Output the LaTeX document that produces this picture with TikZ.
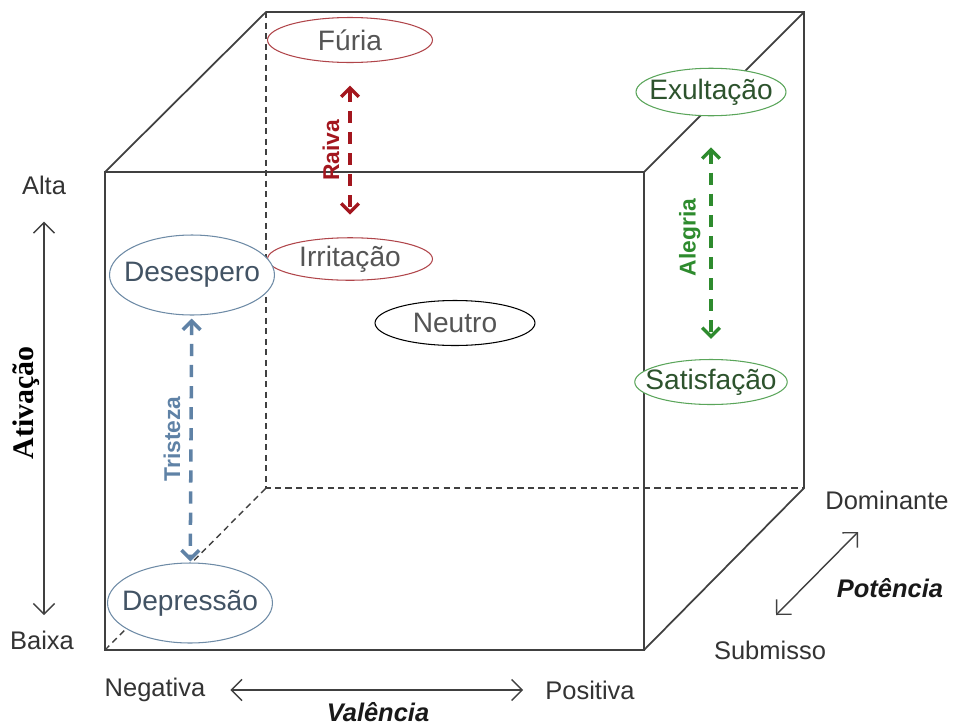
\documentclass[tikz,border=0pt]{standalone}
\usepackage{fontspec}
\setmainfont{Liberation Sans}
\newfontfamily\timesfont{Liberation Serif}
\usepackage{tikz}
\usetikzlibrary{arrows.meta, positioning, shapes.geometric, calc}
\definecolor{edge}{HTML}{404040}
\definecolor{raivared}{HTML}{A3161E}
\definecolor{furiared}{HTML}{B0454A}
\definecolor{alegriagreen}{HTML}{2E8B2E}
\definecolor{exultgreen}{HTML}{5AA55A}
\definecolor{tristblue}{HTML}{5F82A6}
\definecolor{despblue}{HTML}{6E8BA6}
\definecolor{label}{HTML}{555555}

\begin{document}
\begin{tikzpicture}[x=0.02cm, y=-0.02cm,
  emo/.style={ellipse, draw, fill=white, line width=0.6pt, inner xsep=-0.35cm, inner ysep=-0.1cm, font=\fontsize{16}{18}\selectfont, text=label},
  cube/.style={edge, line width=1pt},
  hidden/.style={edge, line width=0.8pt, dash pattern=on 3.5pt off 2.5pt},
  family/.style={{Straight Barb[length=5pt,width=10pt]}-{Straight Barb[length=5pt,width=10pt]}, line width=2pt, dash pattern=on 7pt off 5pt},
  famname/.style={rotate=90, anchor=south, inner sep=5pt, font=\fontsize{13}{15}\selectfont\bfseries},
  axis/.style={{Straight Barb[length=6pt,width=12pt]}-{Straight Barb[length=6pt,width=12pt]}, line width=0.8pt, edge},
  pole/.style={font=\fontsize{14.5}{17}\selectfont, text=black!80},
  axisname/.style={font=\fontsize{14.5}{17}\selectfont\bfseries\itshape, text=black!90}
]
  \useasboundingbox (0,0) rectangle (953,727);

  % cube corners (front face, then back face)
  \coordinate (ftl) at (105,172);
  \coordinate (ftr) at (644,172);
  \coordinate (fbr) at (644,650);
  \coordinate (fbl) at (105,650);
  \coordinate (btl) at (266,12);
  \coordinate (btr) at (804,12);
  \coordinate (bbr) at (804,488);
  \coordinate (bbl) at (266,488);

  % hidden edges
  \draw[hidden] (btl) -- (bbl) -- (bbr);
  \draw[hidden] (fbl) -- (bbl);

  % visible edges
  \draw[cube] (ftl) -- (ftr) -- (fbr) -- (fbl) -- cycle;
  \draw[cube] (ftl) -- (btl) -- (btr) -- (bbr) -- (fbr);
  \draw[cube] (ftr) -- (btr);

  % emotions
  \node[emo, draw=furiared, minimum width=3.3cm, minimum height=0.9cm] (furia) at (350,40) {Fúria};
  \node[emo, draw=furiared, minimum width=3.3cm, minimum height=0.85cm] (irrit) at (350,259) {Irritação};
  \node[emo, draw=despblue, minimum width=3.3cm, minimum height=1.6cm, text=despblue!60!black] (desesp) at (192,275) {Desespero};
  \node[emo, draw=black, minimum width=3.2cm, minimum height=0.9cm] (neutro) at (455,323) {Neutro};
  \node[emo, draw=exultgreen, minimum width=3.0cm, minimum height=0.95cm, text=exultgreen!50!black] (exult) at (711,92) {Exultação};
  \node[emo, draw=exultgreen, minimum width=3.05cm, minimum height=0.9cm, text=exultgreen!50!black] (satisf) at (711,382) {Satisfação};
  \node[emo, draw=despblue, minimum width=3.3cm, minimum height=1.6cm, text=despblue!60!black] (depress) at (190,603) {Depressão};

  % emotion families
  \draw[family, raivared, shorten <=0.45cm, shorten >=0.45cm] (furia) -- (irrit)
    node[midway, famname, text=raivared] {Raiva};
  \draw[family, alegriagreen, shorten <=0.62cm, shorten >=0.4cm] (exult) -- (satisf)
    node[midway, famname, text=alegriagreen] {Alegria};
  \draw[family, tristblue, shorten <=0.06cm, shorten >=0.02cm] (desesp) -- (depress)
    node[midway, famname, text=tristblue] {Tristeza};

  % Ativacao axis
  \node[pole] (alta) at (44,185) {Alta};
  \node[pole] (baixa) at (42,640) {Baixa};
  \draw[axis, shorten <=0.42cm, shorten >=0.5cm] (alta) -- (alta |- baixa);
  \node[rotate=90, font=\timesfont\fontsize{17}{19}\selectfont\bfseries] (ativ) at (26,403) {Ativação};

  % Valencia axis
  \node[pole] (negat) at (155,690) {Negativa};
  \node[pole] (posit) at (590,690) {Positiva};
  \draw[axis, shorten <=0.38cm, shorten >=0.32cm] (negat) -- (posit);
  \node[axisname] (valen) at (378,712) {Valência};

  % Potencia axis
  \node[pole] (domin) at (887,500) {Dominante};
  \node[pole] (subm) at (770,650) {Submisso};
  \coordinate (potlow) at (776,615);
  \coordinate (pothigh) at (858,532);
  \draw[axis] (potlow) -- (pothigh);
  \node[axisname] (poten) at (890,588) {Potência};

\end{tikzpicture}
\end{document}
